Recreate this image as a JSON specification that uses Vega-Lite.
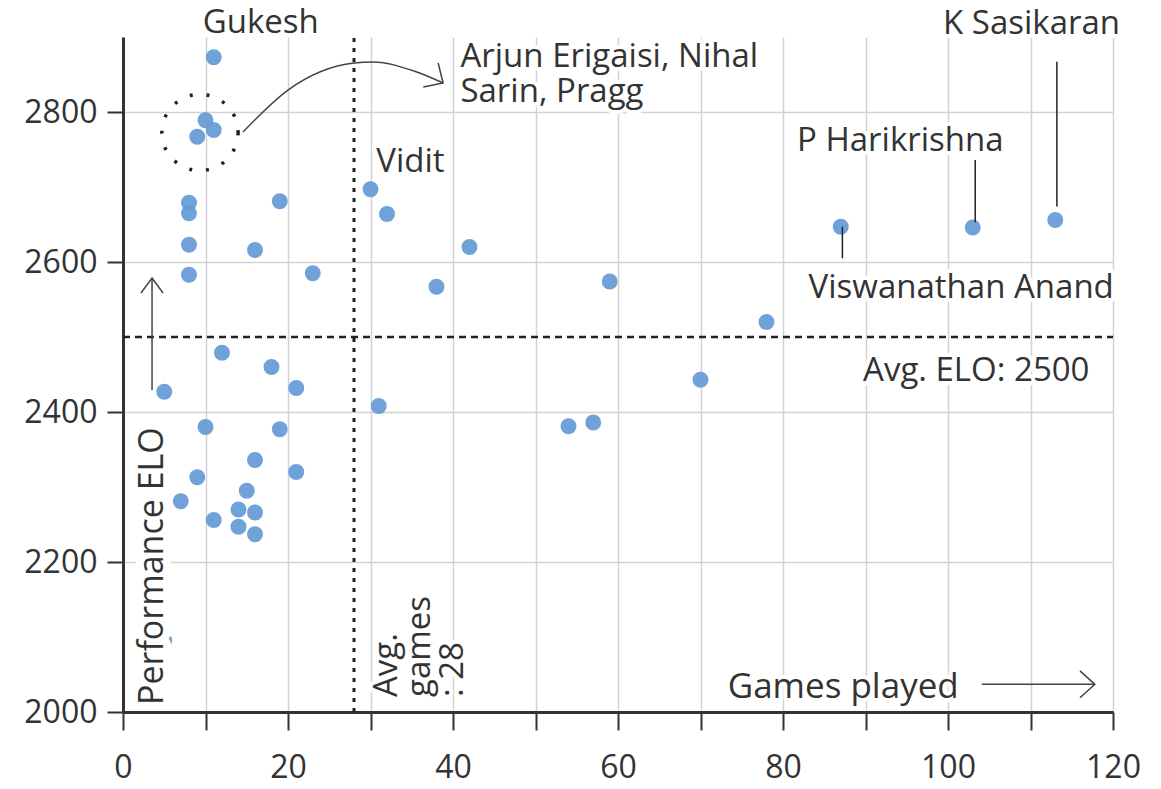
{
  "$schema": "https://vega.github.io/schema/vega-lite/v6.json",
  "width": 990,
  "height": 675,
  "autosize": {"type": "none"},
  "padding": {"left": 123, "top": 37, "right": 48, "bottom": 77},
  "background": "white",
  "config": {"view": {"stroke": null}, "font": "Open Sans"},
  "datasets": {
    "players": [
      {"name": "Gukesh", "x": 11, "y": 2873},
      {"name": "Arjun Erigaisi", "x": 10, "y": 2789},
      {"name": "Nihal Sarin", "x": 11, "y": 2776},
      {"name": "Pragg", "x": 9, "y": 2767},
      {"name": "", "x": 8, "y": 2679},
      {"name": "", "x": 8, "y": 2665},
      {"name": "", "x": 8, "y": 2623},
      {"name": "", "x": 8, "y": 2583},
      {"name": "", "x": 19, "y": 2681},
      {"name": "", "x": 16, "y": 2616},
      {"name": "", "x": 23, "y": 2585},
      {"name": "Vidit", "x": 30, "y": 2697},
      {"name": "", "x": 32, "y": 2664},
      {"name": "", "x": 42, "y": 2620},
      {"name": "", "x": 38, "y": 2567},
      {"name": "", "x": 59, "y": 2574},
      {"name": "", "x": 78, "y": 2520},
      {"name": "", "x": 70, "y": 2443},
      {"name": "", "x": 54, "y": 2381},
      {"name": "", "x": 57, "y": 2386},
      {"name": "Viswanathan Anand", "x": 87, "y": 2647},
      {"name": "P Harikrishna", "x": 103, "y": 2646},
      {"name": "K Sasikaran", "x": 113, "y": 2656},
      {"name": "", "x": 12, "y": 2479},
      {"name": "", "x": 18, "y": 2460},
      {"name": "", "x": 21, "y": 2432},
      {"name": "", "x": 5, "y": 2427},
      {"name": "", "x": 10, "y": 2380},
      {"name": "", "x": 19, "y": 2377},
      {"name": "", "x": 16, "y": 2336},
      {"name": "", "x": 21, "y": 2320},
      {"name": "", "x": 9, "y": 2313},
      {"name": "", "x": 7, "y": 2281},
      {"name": "", "x": 15, "y": 2295},
      {"name": "", "x": 14, "y": 2270},
      {"name": "", "x": 16, "y": 2266},
      {"name": "", "x": 11, "y": 2256},
      {"name": "", "x": 14, "y": 2247},
      {"name": "", "x": 16, "y": 2237},
      {"name": "", "x": 31, "y": 2408},
      {"name": "", "x": 5, "y": 2095}
    ],
    "labels": [
      {"x": 9.66, "y": 2904.9, "label": "Gukesh"},
      {"x": 40.9, "y": 2860.4, "label": ["Arjun Erigaisi, Nihal", "Sarin, Pragg"]},
      {"x": 30.7, "y": 2720.4, "label": "Vidit"},
      {"x": 81.7, "y": 2748.4, "label": "P Harikrishna"},
      {"x": 99.4, "y": 2903.5, "label": "K Sasikaran"},
      {"x": 83.1, "y": 2552.4, "label": "Viswanathan Anand"},
      {"x": 89.7, "y": 2441.3, "label": "Avg. ELO: 2500"}
    ],
    "games": [{"x": 73.3, "y": 2019.1, "label": "Games played"}],
    "perf": [{"x": 4.85, "y": 2009.3, "label": "Performance ELO"}],
    "avggames": [{"x": 33.2, "y": 2020, "label": ["Avg.", "games", ": 28"]}],
    "curve": [
      {"x": 14.55, "y": 2773.3},
      {"x": 20.0, "y": 2829.3},
      {"x": 28.0, "y": 2865.3},
      {"x": 30.3, "y": 2866.7},
      {"x": 35.6, "y": 2853.3},
      {"x": 38.8, "y": 2838.7}
    ],
    "paths": [
      {"id": "a1", "o": 1, "x": 38.2, "y": 2865.3},
      {"id": "a1", "o": 2, "x": 38.8, "y": 2838.7},
      {"id": "a1", "o": 3, "x": 36.4, "y": 2833.3},
      {"id": "a2", "o": 1, "x": 2.18, "y": 2558.7},
      {"id": "a2", "o": 2, "x": 3.52, "y": 2578.7},
      {"id": "a2", "o": 3, "x": 4.85, "y": 2558.7},
      {"id": "a3", "o": 1, "x": 3.52, "y": 2578.7},
      {"id": "a3", "o": 2, "x": 3.52, "y": 2429.3},
      {"id": "a4", "o": 1, "x": 104.1, "y": 2036.9},
      {"id": "a4", "o": 2, "x": 117.8, "y": 2036.9},
      {"id": "a5", "o": 1, "x": 116.0, "y": 2054.9},
      {"id": "a5", "o": 2, "x": 117.8, "y": 2036.9},
      {"id": "a5", "o": 3, "x": 116.0, "y": 2019}
    ],
    "leaders": [
      {"x": 103.3, "y": 2736, "y2": 2653},
      {"x": 113.2, "y": 2867, "y2": 2674},
      {"x": 87.2, "y": 2647, "y2": 2605}
    ]
  },
  "encoding": {
    "x": {
      "field": "x",
      "type": "quantitative",
      "scale": {"domain": [0, 120], "nice": false, "zero": false},
      "axis": {
        "values": [0, 10, 20, 30, 40, 50, 60, 70, 80, 90, 100, 110, 120],
        "labelExpr": "datum.value % 20 === 0 ? datum.label : ''",
        "labelOverlap": false,
        "labelFlush": false,
        "title": null,
        "grid": true,
        "gridColor": "#d2d2d2",
        "gridWidth": 1.5,
        "domainColor": "#333333",
        "domainWidth": 3,
        "tickColor": "#333333",
        "tickWidth": 2,
        "tickSize": 18,
        "labelFontSize": 32,
        "labelFont": "Open Sans",
        "labelColor": "#333333",
        "labelPadding": 22
      }
    },
    "y": {
      "field": "y",
      "type": "quantitative",
      "scale": {"domain": [2000, 2900], "nice": false, "zero": false},
      "axis": {
        "values": [2000, 2200, 2400, 2600, 2800],
        "format": "d",
        "title": null,
        "grid": true,
        "gridColor": "#d2d2d2",
        "gridWidth": 1.5,
        "domainColor": "#333333",
        "domainWidth": 3,
        "tickColor": "#333333",
        "tickWidth": 2,
        "tickSize": 16,
        "labelFontSize": 32,
        "labelFont": "Open Sans",
        "labelColor": "#333333",
        "labelPadding": 10
      }
    }
  },
  "layer": [
    {
      "data": {"values": [{"x": 28, "y": 2000, "y2": 2900}]},
      "mark": {"type": "rule", "color": "#222222", "strokeWidth": 3, "strokeDash": [4, 6]},
      "encoding": {"y2": {"field": "y2"}}
    },
    {
      "data": {"values": [{"x": 0, "x2": 120, "y": 2500}]},
      "mark": {"type": "rule", "color": "#222222", "strokeWidth": 2.5, "strokeDash": [7, 5]},
      "encoding": {"x2": {"field": "x2"}}
    },
    {
      "data": {"name": "players"},
      "mark": {"type": "circle", "size": 254, "color": "#6499d6", "opacity": 0.92}
    },
    {
      "data": {"values": [{"x": 9.33, "y": 2772.7}]},
      "mark": {"type": "point", "shape": "circle", "size": 5809, "filled": false, "stroke": "#222222", "strokeWidth": 3.5, "strokeDash": [3, 13.9], "opacity": 1}
    },
    {
      "data": {"name": "curve"},
      "mark": {"type": "line", "interpolate": "monotone", "color": "#444444", "strokeWidth": 1.5}
    },
    {
      "data": {"name": "paths"},
      "mark": {"type": "line", "color": "#444444", "strokeWidth": 1.5},
      "encoding": {"detail": {"field": "id"}, "order": {"field": "o"}}
    },
    {
      "data": {"name": "leaders"},
      "mark": {"type": "rule", "color": "#222222", "strokeWidth": 1.5},
      "encoding": {"y2": {"field": "y2"}}
    },
    {
      "data": {"name": "labels"},
      "mark": {"type": "text", "align": "left", "baseline": "alphabetic", "fontSize": 33, "lineHeight": 35, "fill": "white", "stroke": "white", "strokeWidth": 8, "strokeJoin": "round"},
      "encoding": {"text": {"field": "label"}}
    },
    {
      "data": {"name": "labels"},
      "mark": {"type": "text", "align": "left", "baseline": "alphabetic", "fontSize": 33, "lineHeight": 35, "color": "#333333"},
      "encoding": {"text": {"field": "label"}}
    },
    {
      "data": {"name": "games"},
      "mark": {"type": "text", "align": "left", "baseline": "alphabetic", "fontSize": 35, "fill": "white", "stroke": "white", "strokeWidth": 8, "strokeJoin": "round"},
      "encoding": {"text": {"field": "label"}}
    },
    {
      "data": {"name": "games"},
      "mark": {"type": "text", "align": "left", "baseline": "alphabetic", "fontSize": 35, "color": "#333333"},
      "encoding": {"text": {"field": "label"}}
    },
    {
      "data": {"name": "perf"},
      "mark": {"type": "text", "align": "left", "baseline": "alphabetic", "angle": 270, "fontSize": 34, "fill": "white", "stroke": "white", "strokeWidth": 16, "strokeJoin": "round"},
      "encoding": {"text": {"field": "label"}}
    },
    {
      "data": {"name": "perf"},
      "mark": {"type": "text", "align": "left", "baseline": "alphabetic", "angle": 270, "fontSize": 34, "color": "#333333"},
      "encoding": {"text": {"field": "label"}}
    },
    {
      "data": {"name": "avggames"},
      "mark": {"type": "text", "align": "left", "baseline": "alphabetic", "angle": 270, "fontSize": 33, "lineHeight": 33, "fill": "white", "stroke": "white", "strokeWidth": 8, "strokeJoin": "round"},
      "encoding": {"text": {"field": "label"}}
    },
    {
      "data": {"name": "avggames"},
      "mark": {"type": "text", "align": "left", "baseline": "alphabetic", "angle": 270, "fontSize": 33, "lineHeight": 33, "color": "#333333"},
      "encoding": {"text": {"field": "label"}}
    }
  ]
}
